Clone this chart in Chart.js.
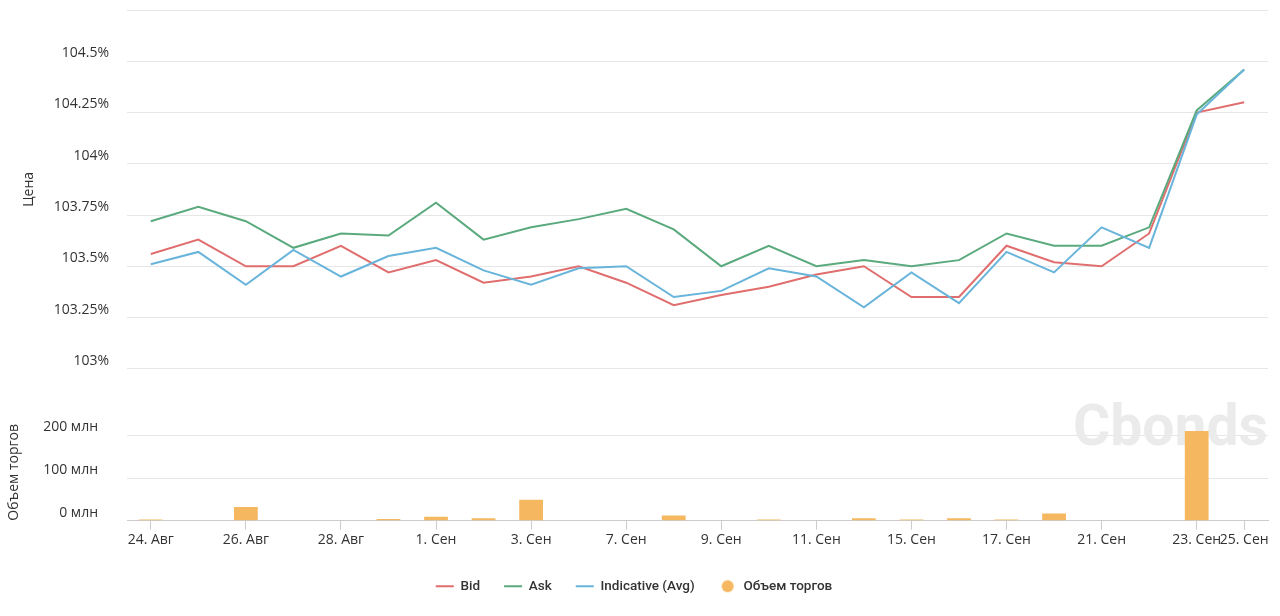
<!DOCTYPE html>
<html>
<head>
<meta charset="utf-8">
<script src="https://cdn.jsdelivr.net/npm/chart.js@4.4.0/dist/chart.umd.min.js"></script>
<style>
  html, body { margin: 0; padding: 0; background: #fff; }
  #wrap { width: 1280px; height: 616px; position: relative; }
</style>
</head>
<body>
<div id="wrap"><canvas id="bondChart"></canvas></div>
<script>
// trading days
const dates = ['24. Авг', '25. Авг', '26. Авг', '27. Авг', '28. Авг', '31. Авг',
  '1. Сен', '2. Сен', '3. Сен', '4. Сен', '7. Сен', '8. Сен', '9. Сен', '10. Сен',
  '11. Сен', '14. Сен', '15. Сен', '16. Сен', '17. Сен', '18. Сен', '21. Сен',
  '22. Сен', '23. Сен', '25. Сен'];

// prices, % of par
const bid = [103.56, 103.63, 103.50, 103.50, 103.60, 103.47, 103.53, 103.42, 103.45, 103.50,
  103.42, 103.31, 103.36, 103.40, 103.46, 103.50, 103.35, 103.35, 103.60, 103.52,
  103.50, 103.66, 104.25, 104.30];
const ask = [103.72, 103.79, 103.72, 103.59, 103.66, 103.65, 103.81, 103.63, 103.69, 103.73,
  103.78, 103.68, 103.50, 103.60, 103.50, 103.53, 103.50, 103.53, 103.66, 103.60,
  103.60, 103.69, 104.26, 104.46];
const indicative = [103.51, 103.57, 103.41, 103.58, 103.45, 103.55, 103.59, 103.48, 103.41, 103.49,
  103.50, 103.35, 103.38, 103.49, 103.45, 103.30, 103.47, 103.32, 103.57, 103.47,
  103.69, 103.59, 104.24, 104.46];

// volume, mln
const volume = [3, 0, 32, 0, 0, 4, 9, 6, 49, 0, 0, 12, 0, 3, 0, 6, 3, 6, 3, 17, 0, 0, 210, 0];

const priceTicks = [103, 104.75];   // min / max of price panel
const volumeTicks = [0, 100, 200, 300];

const bidColor = '#e06e6e';
const askColor = '#5aaa7e';
const avgColor = '#68b4da';
const volColor = '#f5b860';

// round dot for the volume legend item
const dot = document.createElement('canvas');
dot.width = 14; dot.height = 14;
const dc = dot.getContext('2d');
dc.fillStyle = volColor;
dc.beginPath(); dc.arc(7, 7, 6, 0, Math.PI * 2); dc.fill();

const watermark = {
  id: 'watermark',
  beforeDatasetsDraw(chart) {
    const ctx = chart.ctx;
    ctx.save();
    ctx.font = 'bold 57px Roboto';
    ctx.fillStyle = '#ebebeb';
    ctx.textBaseline = 'alphabetic';
    ctx.fillText('Cbonds', 1073, 445);
    ctx.restore();
  }
};

const isShown = i => i % 2 === 0 || i === dates.length - 1;

new Chart(document.getElementById('bondChart'), {
  data: {
    labels: dates,
    datasets: [
      { type: 'line', label: 'Bid', data: bid, yAxisID: 'y', order: 3,
        borderColor: bidColor, backgroundColor: bidColor, borderWidth: 2, pointRadius: 0, tension: 0 },
      { type: 'line', label: 'Ask', data: ask, yAxisID: 'y', order: 2,
        borderColor: askColor, backgroundColor: askColor, borderWidth: 2, pointRadius: 0, tension: 0 },
      { type: 'line', label: 'Indicative (Avg)', data: indicative, yAxisID: 'y', order: 1,
        borderColor: avgColor, backgroundColor: avgColor, borderWidth: 2, pointRadius: 0, tension: 0 },
      { type: 'bar', label: 'Объем торгов', data: volume, yAxisID: 'yv', order: 4,
        backgroundColor: volColor, barPercentage: 0.5, categoryPercentage: 1 }
    ]
  },
  options: {
    responsive: true,
    maintainAspectRatio: false,
    animation: false,
    layout: { padding: { top: 10, right: 12, bottom: 13, left: 0 } },
    plugins: {
      tooltip: { enabled: false },
      legend: {
        position: 'bottom',
        labels: {
          usePointStyle: true,
          pointStyleWidth: 18,
          boxHeight: 12,
          padding: 24,
          color: '#333',
          font: { family: 'Roboto', size: 13.5, weight: '500' },
          generateLabels: chart => chart.data.datasets.map((ds, i) => ({
            text: ds.label,
            datasetIndex: i,
            fillStyle: ds.backgroundColor,
            strokeStyle: ds.type === 'bar' ? volColor : ds.borderColor,
            lineWidth: ds.type === 'bar' ? 0 : 2,
            pointStyle: ds.type === 'bar' ? dot : 'line',
            fontColor: '#333',
            hidden: false
          }))
        }
      }
    },
    scales: {
      x: {
        type: 'category',
        offset: true,
        grid: {
          drawOnChartArea: false,
          offset: false,
          tickLength: 9,
          tickColor: c => isShown(c.index) ? '#ccc' : 'rgba(0,0,0,0)'
        },
        border: { color: '#ccc' },
        ticks: {
          autoSkip: false,
          maxRotation: 0,
          padding: 2,
          color: '#333',
          font: { family: 'Open Sans', size: 14 },
          callback: (v, i) => isShown(i) ? dates[i] : ''
        },
        afterFit: axis => { axis.height += 5; }
      },
      y: {
        position: 'left',
        stack: 'panels',
        stackWeight: 359,
        weight: 2,
        min: priceTicks[0],
        max: priceTicks[1],
        grid: { color: '#e6e6e6', tickLength: 18, tickColor: 'rgba(0,0,0,0)' },
        border: { display: false },
        ticks: {
          stepSize: 0.25,
          padding: 0,
          labelOffset: -8,
          color: '#333',
          font: { family: 'Open Sans', size: 14 },
          callback: v => v === priceTicks[1] ? '' : v + '%'
        },
        title: {
          display: true, text: 'Цена', color: '#333',
          font: { family: 'Open Sans', size: 14 },
          padding: { top: 21, bottom: 0 }
        },
        afterFit: axis => { axis.width = 127; }
      },
      yv: {
        position: 'left',
        stack: 'panels',
        stackWeight: 152,
        weight: 1,
        min: 0,
        max: 356,
        afterBuildTicks: axis => {
          axis.ticks = axis.ticks.filter(t => volumeTicks.includes(t.value));
        },
        grid: { color: '#e6e6e6', tickLength: 29, tickColor: 'rgba(0,0,0,0)' },
        border: { display: false },
        ticks: {
          stepSize: 100,
          padding: 0,
          labelOffset: -8,
          color: '#333',
          font: { family: 'Open Sans', size: 14 },
          callback: v => v === 300 ? '' : v + ' млн'
        },
        title: {
          display: true, text: 'Объем торгов', color: '#333', align: 'start',
          font: { family: 'Open Sans', size: 14 },
          padding: { top: 6, bottom: 0 }
        },
        afterFit: axis => { axis.width = 127; }
      }
    }
  },
  plugins: [watermark]
});
</script>
</body>
</html>
